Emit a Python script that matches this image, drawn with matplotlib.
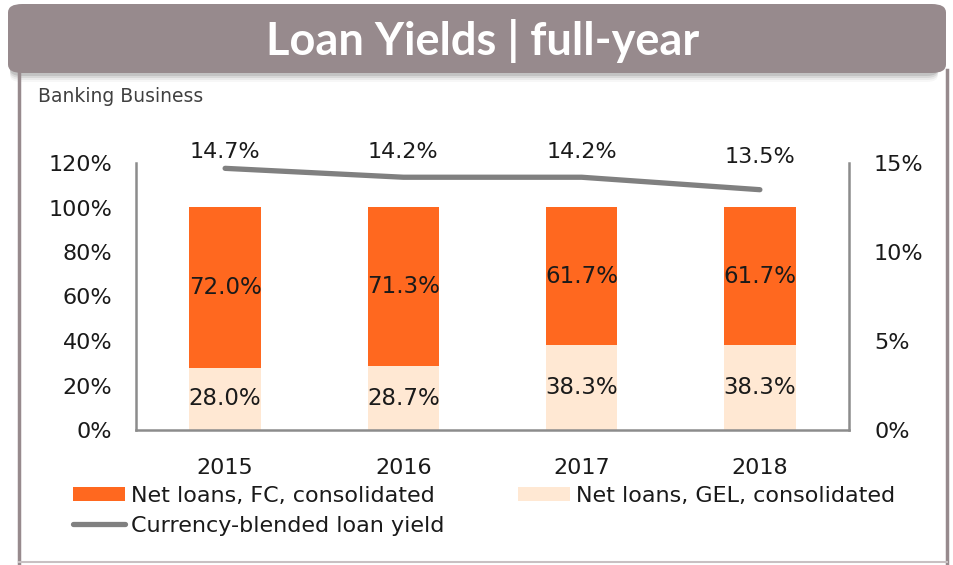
import matplotlib
matplotlib.use("Agg")
import matplotlib.pyplot as plt
from matplotlib.patches import FancyBboxPatch
from matplotlib.lines import Line2D
import numpy as np

years = ["2015", "2016", "2017", "2018"]
fc_share = [72.0, 71.3, 61.7, 61.7]
gel_share = [28.0, 28.7, 38.3, 38.3]
loan_yield = [14.7, 14.2, 14.2, 13.5]

ORANGE = "#FF681F"
PEACH = "#FFE8D3"
LINE_GRAY = "#808080"
MAUVE = "#978A8D"
TEXT = "#1a1a1a"

plt.rcParams["font.family"] = ["DejaVu Sans"]

W, H = 954, 565
fig = plt.figure(figsize=(W / 100, H / 100), dpi=100)

def fx(px):
    return px / W

def fy(py):
    return 1 - py / H

# frame around the chart
fig.add_artist(Line2D([fx(19), fx(19)], [fy(70), fy(563)], color=MAUVE, lw=2.5))
fig.add_artist(Line2D([fx(947), fx(947)], [fy(70), fy(563)], color=MAUVE, lw=2.5))
fig.add_artist(Line2D([fx(19), fx(947)], [fy(562), fy(562)], color="#c8c0c2", lw=1.5))

# shadow under the banner
for i, a in enumerate([0.10, 0.07, 0.05, 0.03]):
    fig.add_artist(FancyBboxPatch((fx(10), fy(76 + i * 2)), fx(938) - fx(10), fy(10) - fy(76),
                                  boxstyle="round,pad=0,rounding_size=0.012",
                                  fc="black", ec="none", alpha=a, zorder=1))
# title banner
fig.add_artist(FancyBboxPatch((fx(8), fy(73)), fx(946) - fx(8), fy(4) - fy(73),
                              boxstyle="round,pad=0,rounding_size=0.015",
                              fc=MAUVE, ec="none", zorder=2))
fig.text(fx(483), fy(41), "Loan Yields | full-year", color="white", fontsize=32.5,
         fontweight="bold", family="Lato", ha="center", va="center", zorder=3)
fig.text(fx(38), fy(97), "Banking Business", color="#404040", fontsize=13.5,
         ha="left", va="center")

ax = fig.add_axes([fx(136), fy(430), fx(849) - fx(136), fy(163) - fy(430)])
x = np.arange(len(years))
bw = 0.4
b1 = ax.bar(x, gel_share, bw, color=PEACH, label="Net loans, GEL, consolidated", zorder=2)
b2 = ax.bar(x, fc_share, bw, bottom=gel_share, color=ORANGE,
            label="Net loans, FC, consolidated", zorder=2)

for i in range(len(years)):
    ax.text(x[i], gel_share[i] / 2, f"{gel_share[i]:.1f}%", ha="center", va="center",
            fontsize=16.5, color=TEXT, zorder=4)
    ax.text(x[i], gel_share[i] + fc_share[i] / 2, f"{fc_share[i]:.1f}%", ha="center",
            va="center", fontsize=16.5, color=TEXT, zorder=4)

ax.set_xlim(-0.5, 3.5)
ax.set_ylim(0, 120)
ax.set_yticks(np.arange(0, 121, 20))
ax.set_yticklabels([f"{v}%" for v in range(0, 121, 20)])
ax.set_xticks(x)
ax.set_xticklabels(years)
ax.tick_params(axis="y", length=0, pad=17, labelsize=16, labelcolor=TEXT)
ax.tick_params(axis="x", length=0, pad=20, labelsize=16, labelcolor=TEXT)
for s in ["left", "right", "bottom"]:
    ax.spines[s].set_color("#8c8c8c")
    ax.spines[s].set_linewidth(1.8)
ax.spines["top"].set_visible(False)

ax2 = ax.twinx()
ax2.set_ylim(0, 15)
ax2.set_yticks([0, 5, 10, 15])
ax2.set_yticklabels(["0%", "5%", "10%", "15%"])
ax2.tick_params(axis="y", length=0, pad=18, labelsize=16, labelcolor=TEXT)
for s in ax2.spines.values():
    s.set_visible(False)
ln, = ax2.plot(x, loan_yield, color=LINE_GRAY, lw=3.8, solid_capstyle="round",
               label="Currency-blended loan yield", zorder=3)
label_y = [15.6, 15.6, 15.6, 15.35]
for i in range(len(years)):
    ax2.text(x[i], label_y[i], f"{loan_yield[i]:.1f}%", ha="center", va="center",
             fontsize=16, color=TEXT)

leg = fig.legend(handles=[b2, ln, b1],
                 labels=["Net loans, FC, consolidated", "Currency-blended loan yield",
                         "Net loans, GEL, consolidated"],
                 ncol=2, loc="upper left", bbox_to_anchor=(fx(73), fy(486)),
                 frameon=False, fontsize=16, handlelength=2.35, handleheight=0.63,
                 handletextpad=0.27, columnspacing=3.3, labelspacing=0.45,
                 borderaxespad=0, borderpad=0)
for t in leg.get_texts():
    t.set_color(TEXT)

fig.savefig("out.png", dpi=100)
